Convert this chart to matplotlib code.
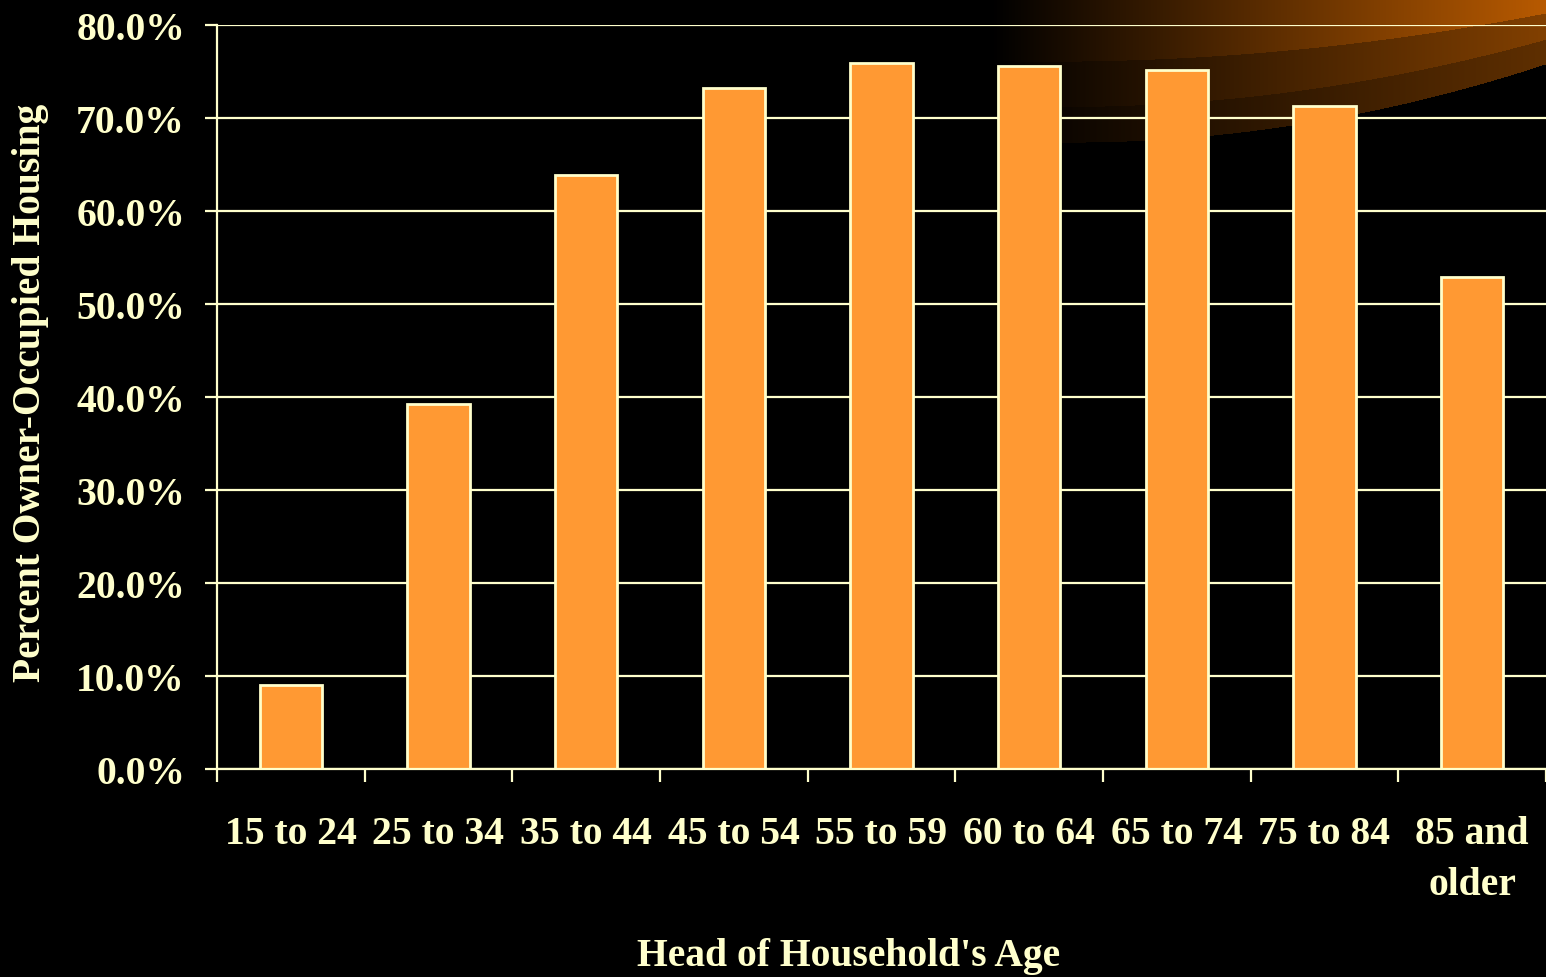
import numpy as np
import matplotlib
matplotlib.use("Agg")
import matplotlib.pyplot as plt
from matplotlib.ticker import FixedLocator, FuncFormatter

# Home ownership rate by age of head of household
age_groups = ["15 to 24", "25 to 34", "35 to 44", "45 to 54", "55 to 59",
              "60 to 64", "65 to 74", "75 to 84", "85 and\nolder"]
owner_pct = [9.0, 39.2, 63.9, 73.2, 75.9, 75.6, 75.2, 71.3, 52.9]
y_ticks = [0, 10, 20, 30, 40, 50, 60, 70, 80]

W, H, DPI = 1546, 978, 100
CREAM = "#FFFFCC"
BAR = "#FF9933"
FONT = "Liberation Serif"
FS = 28.5

plt.rcParams["font.family"] = [FONT, "DejaVu Serif"]
plt.rcParams["font.weight"] = "bold"

fig = plt.figure(figsize=(W / DPI, H / DPI), dpi=DPI, facecolor="black")

# Decorative orange swoosh in the upper right corner of the slide
bg = fig.add_axes([0, 0, 1, 1], zorder=0)
bg.set_axis_off()
xx, yy = np.meshgrid(np.arange(W), np.arange(H))
edge_x = [1000, 1200, 1300, 1480, 1546]
edges = [
    [62, 57, 50, 27, 13],
    [107, 100, 92, 60, 38],
    [142, 135, 126, 87, 63],
]
band_rgb = [(184, 90, 0), (130, 64, 0), (95, 47, 0)]
fade = np.clip((xx - 990) / (W - 990), 0, 1)
img = np.zeros((H, W, 3))
prev = np.full(W, -1.0)
for pts, rgb in zip(edges, band_rgb):
    coef = np.polyfit(edge_x, pts, 2)
    lower = np.polyval(coef, np.arange(W))
    mask = (yy > prev[None, :]) & (yy <= lower[None, :])
    for c in range(3):
        img[..., c] = np.where(mask, rgb[c] / 255 * fade, img[..., c])
    prev = lower
bg.imshow(img, extent=[0, W, H, 0], aspect="auto", interpolation="bilinear")
bg.set_xlim(0, W)
bg.set_ylim(H, 0)

# Bar chart
left, right, top, bottom = 217, 1546, 26, 770
ax = fig.add_axes([left / W, 1 - bottom / H, (right - left) / W, (bottom - top) / H],
                  zorder=1)
ax.set_facecolor("none")

x = np.arange(len(age_groups))
ax.bar(x, owner_pct, width=0.42, color=BAR, edgecolor=CREAM, linewidth=2.0, zorder=3)

ax.set_xlim(-0.5, len(age_groups) - 0.5)
ax.set_ylim(0, 80)
ax.yaxis.set_major_locator(FixedLocator(y_ticks))
ax.yaxis.set_major_formatter(FuncFormatter(lambda v, p: f"{v:.1f}%"))
ax.grid(axis="y", color=CREAM, linewidth=1.6, zorder=1)
ax.set_axisbelow(True)

for side in ["top", "right"]:
    ax.spines[side].set_visible(False)
for side in ["left", "bottom"]:
    ax.spines[side].set_color(CREAM)
    ax.spines[side].set_linewidth(1.6)
    ax.spines[side].set_zorder(4)

# Category labels at bar centres, tick marks at category boundaries
ax.set_xticks(x)
ax.set_xticklabels(age_groups, linespacing=1.5)
ax.set_xticks(np.arange(len(age_groups) + 1) - 0.5, minor=True)
ax.tick_params(axis="x", which="major", length=0, pad=33,
               labelsize=FS, labelcolor=CREAM)
ax.tick_params(axis="x", which="minor", length=9, width=1.6, color=CREAM,
               direction="out")
ax.tick_params(axis="y", which="major", length=9, width=1.6, color=CREAM,
               direction="out", pad=14, labelsize=FS, labelcolor=CREAM)
for lbl in ax.get_xticklabels() + ax.get_yticklabels():
    lbl.set_fontweight("bold")

ax.set_ylabel("Percent Owner-Occupied Housing", fontsize=FS, color=CREAM,
              fontweight="bold")
ax.yaxis.set_label_coords((30 - left) / (right - left), (bottom - 393) / (bottom - top))
ax.yaxis.label.set_verticalalignment("center")

ax.set_xlabel("Head of Household's Age", fontsize=FS, color=CREAM, fontweight="bold")
ax.xaxis.set_label_coords((849 - left) / (right - left), -(957 - bottom) / (bottom - top))
ax.xaxis.label.set_verticalalignment("center")

fig.savefig("out.png", dpi=DPI, facecolor="black")
